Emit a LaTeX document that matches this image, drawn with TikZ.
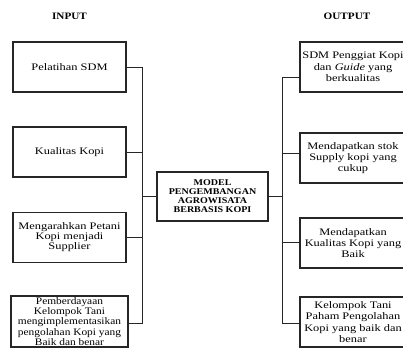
\documentclass[tikz,border=0pt]{standalone}
\usepackage{fontspec}
\setmainfont{Liberation Serif}[FakeStretch=1.14]
\newfontfamily\widefont{Liberation Serif}[FakeStretch=1.24]
\begin{document}
\begin{tikzpicture}[x=1pt,y=-1pt,
  box/.style={draw=black!85,line width=1.3pt,align=center,inner sep=1pt,
    font=\widefont\fontsize{10}{10}\selectfont},
  lbox/.style={box,minimum width=113pt,minimum height=50pt},
  rbox/.style={box,minimum width=106pt,minimum height=50pt,
    font=\widefont\fontsize{10}{11.4}\selectfont},
  conn/.style={draw=black!85,line width=0.9pt},
  title/.style={font=\fontsize{9.8}{10}\selectfont\bfseries}]
\useasboundingbox (0,0) rectangle (403,350);
% titles
\node[title] (tin) at (69.5,16) {INPUT};
\node[title] (tout) at (347,16) {OUTPUT};
% left boxes
\node[lbox] (l1) at (69.5,67) {Pelatihan SDM};
\node[lbox] (l2) at (69.5,152) {Kualitas Kopi};
\node[lbox] (l3) at (69.5,237.5) {Mengarahkan Petani\\Kopi menjadi\\Supplier};
\node[lbox,minimum width=117pt,minimum height=51pt,font=\fontsize{10}{8.5}\selectfont] (l4) at (69.5,321.5)
  {Pemberdayaan\\Kelompok Tani\\mengimplementasikan\\pengolahan Kopi yang\\Baik dan benar};
% center
\node[box,minimum width=111pt,minimum height=49pt,font=\fontsize{8.8}{9}\selectfont\bfseries] (c) at (212.5,196.5)
  {MODEL\\PENGEMBANGAN\\AGROWISATA\\BERBASIS KOPI};
% right boxes
\node[rbox] (r1) at (353,67) {SDM Penggiat Kopi\\dan \textit{Guide} yang\\berkualitas};
\node[rbox] (r2) at (353,158) {Mendapatkan stok\\Supply kopi yang\\cukup};
\node[rbox] (r3) at (353,243) {Mendapatkan\\Kualitas Kopi yang\\Baik};
\node[rbox] (r4) at (353,322) {Kelompok Tani\\Paham Pengolahan\\Kopi yang baik dan\\benar};
% left spine
\coordinate (ls1) at (142,67);
\coordinate (ls4) at (142,323);
\draw[conn] (l1.east) -- (ls1) -- (ls4) -- (l4.east |- ls4);
\draw[conn] (l2.east) -- (l2.east -| ls1);
\draw[conn] (l3.east) -- (l3.east -| ls1);
\draw[conn] (c.west) -- (c.west -| ls1);
% right spine
\coordinate (rs1) at (282,77);
\coordinate (rs4) at (282,323);
\draw[conn] (r1.west |- rs1) -- (rs1) -- (rs4) -- (r4.west |- rs4);
\draw[conn] (c.east) -- (c.east -| rs1);
\coordinate (rs2) at (282,153);
\coordinate (rs3) at (282,242);
\draw[conn] (rs2) -- (r2.west |- rs2);
\draw[conn] (rs3) -- (r3.west |- rs3);
\end{tikzpicture}
\end{document}
